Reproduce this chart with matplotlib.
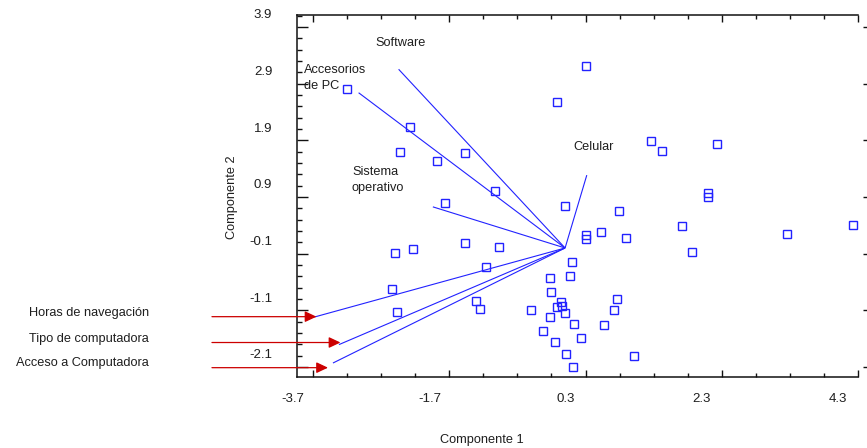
import numpy as np
import matplotlib
matplotlib.use("Agg")
import matplotlib.pyplot as plt
import matplotlib.transforms as mtransforms

plt.rcParams['font.family'] = ['Liberation Sans', 'DejaVu Sans']
plt.rcParams['axes.unicode_minus'] = False

# Observation scores on the first two principal components
score_x = [-3.200, -2.285, -2.432, -1.884, -1.477, -1.026, -1.771, -0.112, 0.001,
           0.300, 1.264, 1.426, 2.228, 2.106, 2.106, 0.799, 0.300, 0.300, 0.524,
           0.897, 1.720, 3.256, 4.235, 1.860, 0.104, 0.065, -0.057, -0.043, -0.122,
           0.000, 0.765, 0.725, 0.138, 0.579, 0.236, 0.016, 0.123, 1.009, -2.505,
           -2.236, -1.477, -0.978, -1.169, -2.539, -2.465, -1.316, -1.257, -0.498,
           -0.219, -0.214, -0.219, -0.327, -0.145]
score_y = [2.806, 2.140, 1.698, 1.534, 1.675, 1.004, 0.792, 2.571, 0.744,
           3.212, 1.892, 1.716, 1.834, 0.973, 0.903, 0.655, 0.226, 0.155, 0.279,
           0.173, 0.385, 0.239, 0.403, -0.069, -0.256, -0.493, -0.952, -1.028, -1.041,
           -1.147, -0.892, -1.099, -1.334, -1.364, -1.594, -1.864, -2.101, -1.906, -0.087,
           -0.021, 0.090, 0.019, -0.334, -0.723, -1.129, -0.928, -1.081, -1.099,
           -0.528, -0.781, -1.217, -1.458, -1.659]

# Variable loadings (vector ends)
var_names = ["Software", "Accesorios\nde PC", "Sistema\noperativo", "Celular",
             "Horas de navegación", "Tipo de computadora", "Acceso a Computadora"]
load_x = [-2.446, -3.034, -1.943, 0.319, -3.680, -3.323, -3.411]
load_y = [3.154, 2.740, 0.726, 1.286, -1.217, -1.705, -2.030]

# Where the names of the first four variables sit inside the plot
inner_label_x = [-2.789, -3.837, -3.132, 0.123]
inner_label_y = [3.613, 3.000, 1.203, 1.786]

# Names of the last three variables sit outside, pointed at by red arrows
outer_label_x = -6.114
outer_label_y = [-1.145, -1.609, -2.038]
arrow_tail_x = -5.189
arrow_tip_x = [-3.653, -3.301, -3.484]
arrow_y = [-1.212, -1.668, -2.112]

x_ticks = [-3.7, -1.7, 0.3, 2.3, 4.3]
x_tick_labels = ["-3.7", "-1.7", "0.3", "2.3", "4.3"]
y_ticks = [-2.1, -1.1, -0.1, 0.9, 1.9, 2.9, 3.9]
y_tick_labels = ["-2.1", "-1.1", "-0.1", "0.9", "1.9", "2.9", "3.9"]

DPI = 100
FS = 9.2
TICK_FS = 9.5
fig = plt.figure(figsize=(8.67, 4.48), dpi=DPI)
ax = fig.add_axes([0.3429, 0.1578, 0.6464, 0.808])
ax.set_xlim(-3.935, 4.3)
ax.set_ylim(-2.282, 4.106)

txt_color = '#1e1e1e'
blue = '#2222ff'

# vectors from the origin
for lx, ly in zip(load_x, load_y):
    ax.plot([0, lx], [0, ly], color=blue, lw=0.8, solid_capstyle='butt')

# observation markers
ax.plot(score_x, score_y, 's', mfc='none', mec=blue, ms=5.8, mew=1.0,
        clip_on=False, zorder=3)

# variable names inside the plot
for name, tx, ty in zip(var_names[:4], inner_label_x, inner_label_y):
    ax.text(tx, ty, name, ha='left', va='center', fontsize=FS, color=txt_color,
            linespacing=1.4)

# variable names outside with red arrows
for name, ty, ay, tip in zip(var_names[4:], outer_label_y, arrow_y, arrow_tip_x):
    ax.text(outer_label_x, ty, name, ha='right', va='center', fontsize=FS,
            color=txt_color, clip_on=False)
    ax.annotate("", xy=(tip, ay), xytext=(arrow_tail_x, ay),
                arrowprops=dict(arrowstyle="-|>,head_length=0.7,head_width=0.33",
                                color='#cc0000', lw=0.9, shrinkA=0, shrinkB=0),
                annotation_clip=False)

# frame
for side in ['top', 'bottom', 'left']:
    ax.spines[side].set_linewidth(1.1)
    ax.spines[side].set_color('#111111')
ax.spines['right'].set_visible(False)

ax.set_xticks(x_ticks, labels=x_tick_labels)
ax.set_yticks(y_ticks, labels=y_tick_labels)
ax.set_xticks(np.arange(-3.7, 4.31, 0.5), minor=True)
ax.set_yticks(np.arange(-2.1, 4.11, 0.2), minor=True)

ax.tick_params(axis='x', which='major', direction='in', length=5, width=1.0,
               top=True, bottom=True, labelsize=TICK_FS, pad=11, colors='#111111',
               labelcolor=txt_color)
ax.tick_params(axis='x', which='minor', direction='in', length=2.8, width=1.0,
               top=True, bottom=True, colors='#111111')
ax.tick_params(axis='y', which='major', direction='in', length=7.8, width=1.0,
               left=True, right=False, labelsize=TICK_FS, pad=18, colors='#111111',
               labelcolor=txt_color)
ax.tick_params(axis='y', which='minor', direction='in', length=3.6, width=1.0,
               left=True, right=False, colors='#111111')

# shift tick labels the way they are laid out in the chart
dx = mtransforms.ScaledTranslation(-20 / DPI, 0, fig.dpi_scale_trans)
for lbl in ax.get_xticklabels():
    lbl.set_transform(lbl.get_transform() + dx)
dy = mtransforms.ScaledTranslation(0, 13.3 / DPI, fig.dpi_scale_trans)
for lbl in ax.get_yticklabels():
    lbl.set_transform(lbl.get_transform() + dy)

# detached ticks on the right side
ax_r = ax.twinx()
ax_r.set_ylim(ax.get_ylim())
for side in ax_r.spines:
    ax_r.spines[side].set_visible(False)
ax_r.spines['right'].set_position(('outward', 7.2))
ax_r.set_yticks(y_ticks)
ax_r.tick_params(axis='y', which='major', direction='in', length=3.6, width=1.0,
                 right=True, labelright=False, colors='#111111')

ax.set_xlabel("Componente 1", fontsize=FS, color=txt_color)
ax.xaxis.set_label_coords((482 - 297.3) / 560.4, (377.3 - 440) / 362.0)
ax.xaxis.label.set_va('center')
ax.set_ylabel("Componente 2", fontsize=FS, color=txt_color)
ax.yaxis.set_label_coords((232 - 297.3) / 560.4, (377.3 - 197) / 362.0)
ax.yaxis.label.set_va('center')

fig.savefig("out.png", dpi=DPI)
